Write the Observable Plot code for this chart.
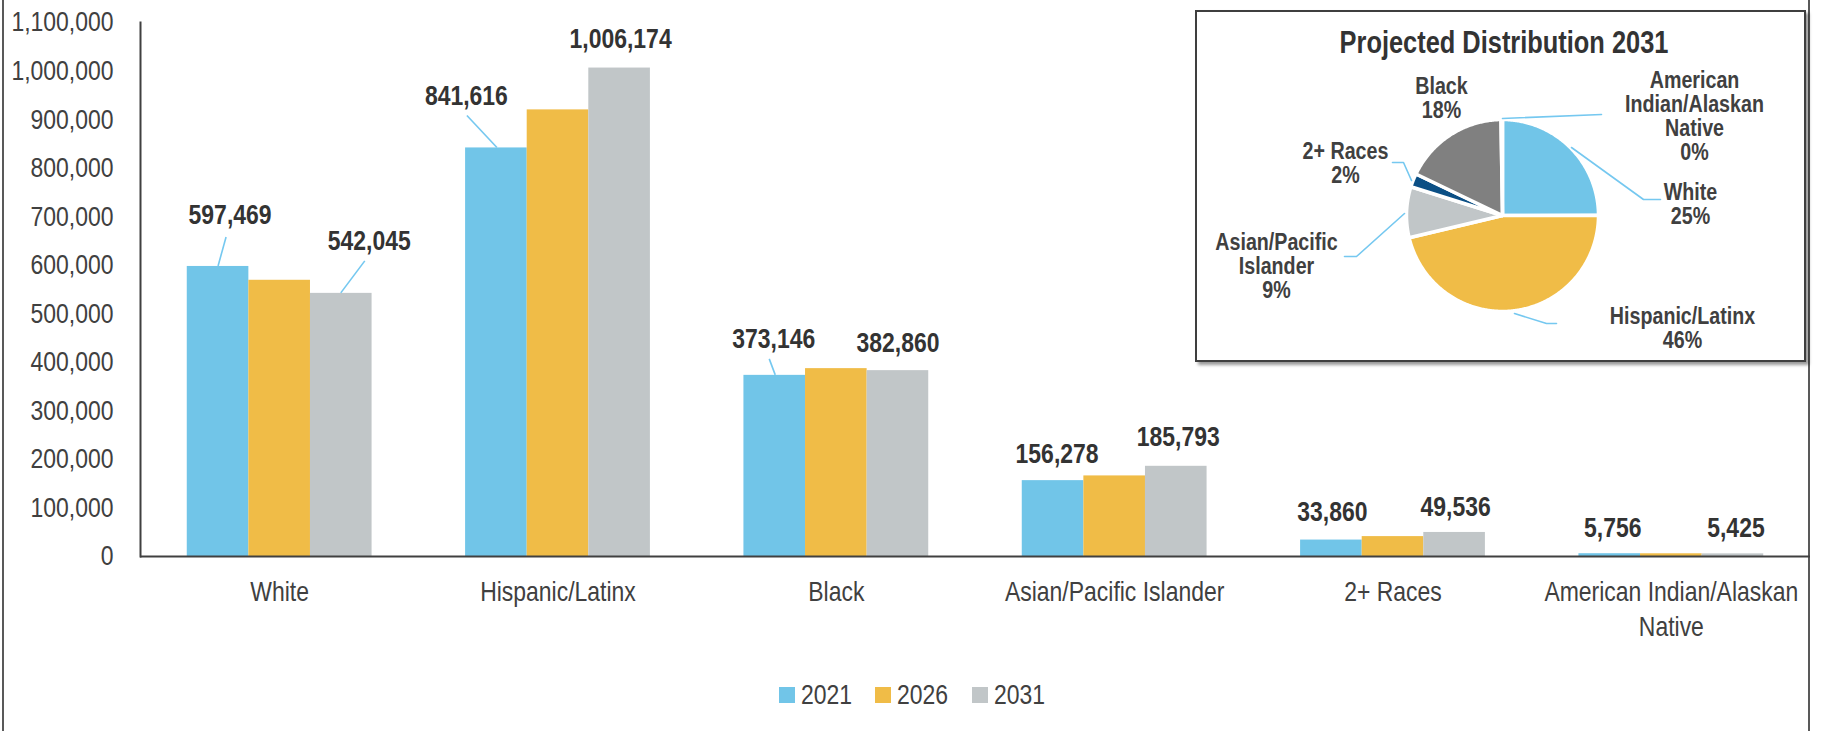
<!DOCTYPE html>
<html>
<head>
<meta charset="utf-8">
<script src="https://cdn.jsdelivr.net/npm/d3@7"></script>
<script src="https://cdn.jsdelivr.net/npm/@observablehq/plot@0.6"></script>
<style>
  html, body { margin: 0; padding: 0; background: #fff; }
  #wrap { position: relative; width: 1825px; height: 731px; overflow: hidden; background: #fff; }
  #frame { position: absolute; left: 2px; top: -10px; width: 1808px; height: 800px; border: 2px solid #595959; box-sizing: border-box; }
  #main { position: absolute; left: 0; top: 0; }
  #inset { position: absolute; left: 1195px; top: 10px; width: 611px; height: 352px; border: 2px solid #3f3f3f; box-sizing: border-box; background: #fff; box-shadow: 3px 3px 3px rgba(0,0,0,0.4); }
  #inset svg { display: block; }
  #legend { position: absolute; left: 0; top: 0; color: #404040; }
  #legend .item { position: absolute; top: 679px; height: 32px; display: flex; align-items: center; white-space: nowrap; }
  #legend .sw { width: 16px; height: 16px; margin-right: 6px; flex: none; }
  #legend span { display: inline-block; transform-origin: left center; }
</style>
</head>
<body>
<div id="wrap">
  <div id="frame"></div>
  <div id="main"></div>
  <div id="inset"></div>
  <div id="legend"></div>
</div>
<script>
// ---------------- DATA ----------------
const races = ["White", "Hispanic/Latinx", "Black", "Asian/Pacific Islander", "2+ Races", "American Indian/Alaskan Native"];
const years = ["2021", "2026", "2031"];
const v2021 = [597469, 841616, 373146, 156278, 33860, 5756];
const v2026 = [569000, 920000, 387000, 166000, 41000, 5600];
const v2031 = [542045, 1006174, 382860, 185793, 49536, 5425];
const yTicks = [0, 100000, 200000, 300000, 400000, 500000, 600000, 700000, 800000, 900000, 1000000, 1100000];
const pieTitle = "Projected Distribution 2031";
const pieOrder = ["White", "Hispanic/Latinx", "Asian/Pacific Islander", "2+ Races", "Black", "American Indian/Alaskan Native"];

// ---------------- STYLE / LAYOUT ----------------
const yearColors = ["#71C5E8", "#F0BC47", "#C1C6C8"];
const pieColors = {"White": "#71C5E8", "Hispanic/Latinx": "#F0BC47", "Asian/Pacific Islander": "#C1C6C8", "2+ Races": "#0B4F85", "Black": "#808080", "American Indian/Alaskan Native": "#2E75B6"};
const leaderColor = "#75C8F0";
const legendLeft = [779, 875, 972];

// bar value labels: offset of label centre from bar top centre, optional leader (relative px)
const labelLayout = [
  {race: "White", year: "2021", dx: 12, dy: -51, leader: [[8.5, -29], [0.5, 0]]},
  {race: "White", year: "2031", dx: 28, dy: -52, leader: [[24, -32], [0, 0]]},
  {race: "Hispanic/Latinx", year: "2021", dx: -30, dy: -52, leader: [[-29, -32], [1, 0]]},
  {race: "Hispanic/Latinx", year: "2031", dx: 1, dy: -29},
  {race: "Black", year: "2021", dx: -1, dy: -36, leader: [[-5, -16], [1, 0]]},
  {race: "Black", year: "2031", dx: 0, dy: -28},
  {race: "Asian/Pacific Islander", year: "2021", dx: 4, dy: -27},
  {race: "Asian/Pacific Islander", year: "2031", dx: 2, dy: -29},
  {race: "2+ Races", year: "2021", dx: 1, dy: -28},
  {race: "2+ Races", year: "2031", dx: 1, dy: -25},
  {race: "American Indian/Alaskan Native", year: "2021", dx: 3, dy: -26},
  {race: "American Indian/Alaskan Native", year: "2031", dx: 3, dy: -26}
];

const pieLabelNames = {"American Indian/Alaskan Native": "American\nIndian/Alaskan\nNative", "Asian/Pacific Islander": "Asian/Pacific\nIslander"};
// pie label centres relative to pie centre (px, y down)
const pieLabelLayout = [
  {name: "Black", dx: -61, dy: -117},
  {name: "American Indian/Alaskan Native", dx: 192, dy: -99},
  {name: "2+ Races", dx: -157, dy: -52},
  {name: "White", dx: 188, dy: -11},
  {name: "Asian/Pacific Islander", dx: -226, dy: 51},
  {name: "Hispanic/Latinx", dx: 180, dy: 113}
];
const pieLeaderLayout = [
  {name: "American Indian/Alaskan Native", pts: [[0, -97], [99, -101]]},
  {name: "White", pts: [[69, -68], [141, -16], [158, -16]]},
  {name: "2+ Races", pts: [[-110, -53], [-99, -53], [-91, -35]]},
  {name: "Asian/Pacific Islander", pts: [[-98, -2], [-146, 41], [-158, 41]]},
  {name: "Hispanic/Latinx", pts: [[12, 98], [44, 108], [54, 108]]}
];

// ---------------- FONT ----------------
function fontAvailable(name) {
  const c = document.createElement("canvas").getContext("2d");
  const s = "abcdefghijklmnopqrstuvwxyzABCDEFGHIJ0123456789";
  c.font = "40px monospace"; const w0 = c.measureText(s).width;
  c.font = `40px "${name}", monospace`; const w1 = c.measureText(s).width;
  return Math.abs(w0 - w1) > 0.5;
}
const NARROW = fontAvailable("Liberation Sans Narrow");
const FONT = NARROW ? '"Liberation Sans Narrow", "Liberation Sans", Arial, sans-serif' : '"Liberation Sans", Arial, sans-serif';
const SQUEEZE = NARROW ? 1 : 0.82; // horizontal condensing of a regular sans to mimic the narrow face

function condense(svg) {
  if (SQUEEZE === 1) return;
  svg.querySelectorAll("text").forEach(t => {
    const tr = t.getAttribute("transform") || "";
    const xa = t.getAttribute("x");
    let pre = "";
    if (xa != null && /^-?[\d.]+$/.test(xa.trim())) { pre = ` translate(${+xa},0)`; t.removeAttribute("x"); }
    t.setAttribute("transform", `${tr}${pre} scale(${SQUEEZE},1)`);
  });
}

// ---------------- MAIN CHART ----------------
const fmt = d3.format(",");
const series = {"2021": v2021, "2026": v2026, "2031": v2031};
const rows = races.flatMap((race, i) => years.map((year, j) => ({race, year, j, value: series[year][i]})));

const W = 1825, H = 640, ML = 140, MR = 15, MT = 22, MB = 84, PI = 0.336, PO = 0.168;
const step = (W - ML - MR) / (races.length - PI + 2 * PO);
const sub = step * (1 - PI) / years.length;

const barMarks = years.map((year, j) => Plot.barY(rows.filter(d => d.year === year), {
  x: "race", y: "value", fill: yearColors[j],
  insetLeft: j * sub, insetRight: (years.length - 1 - j) * sub
}));

const labelMarks = labelLayout.map(L => {
  const d = rows.find(r => r.race === L.race && r.year === L.year);
  return Plot.text([d], {
    x: "race", y: "value", text: r => fmt(r.value),
    dx: (d.j - 1) * sub + L.dx, dy: L.dy,
    fontSize: 28, fontWeight: "bold", fill: "#333333", lineAnchor: "middle"
  });
});

const main = Plot.plot({
  width: W, height: H,
  marginTop: MT, marginBottom: MB, marginLeft: ML, marginRight: MR,
  style: {fontFamily: FONT, fontSize: "28px", background: "transparent", color: "#404040", overflow: "visible"},
  x: {domain: races, paddingInner: PI, paddingOuter: PO, round: false, label: null},
  y: {domain: [0, 1100000], label: null},
  marks: [
    ...barMarks,
    Plot.axisY({ticks: yTicks, tickSize: 0, tickPadding: 27, tickFormat: fmt, fill: "#404040", fontSize: 28, label: null}),
    Plot.axisX({tickSize: 0, tickPadding: 20, tickFormat: d => d.replace("Alaskan ", "Alaskan\n"), fill: "#404040", fontSize: 28, lineHeight: 1.25, label: null}),
    Plot.ruleY([0], {stroke: "#404040", strokeWidth: 2}),
    Plot.frame({anchor: "left", stroke: "#404040", strokeWidth: 2}),
    ...labelMarks
  ]
});
document.getElementById("main").appendChild(main);
condense(main);

// leader lines for bar labels, placed with the plot's own scales
const sx = main.scale("x"), sy = main.scale("y");
const msvg = d3.select(main);
labelLayout.filter(L => L.leader).forEach(L => {
  const d = rows.find(r => r.race === L.race && r.year === L.year);
  const cx = sx.apply(d.race) + sx.bandwidth / 2 + (d.j - 1) * sub;
  const cy = sy.apply(d.value);
  msvg.append("path")
    .attr("d", d3.line()(L.leader.map(([a, b]) => [cx + a, cy + b])))
    .attr("fill", "none").attr("stroke", leaderColor).attr("stroke-width", 1.6);
});

// ---------------- PIE INSET ----------------
const PW = 607, PH = 348, R = 96, PCX = 305, PCY = 203; // pie frame size, radius and centre (px)
const pieData = pieOrder.map(name => ({name, value: v2031[races.indexOf(name)]}));
const total = d3.sum(pieData, d => d.value);
const arcs = d3.pie().sort(null).value(d => d.value)(pieData);
const slicePts = arcs.map(a => {
  const n = Math.max(2, Math.ceil((a.endAngle - a.startAngle) / 0.01));
  const pts = [{x: 0, y: 0}];
  for (let i = 0; i <= n; i++) {
    const t = a.startAngle + (a.endAngle - a.startAngle) * i / n;
    pts.push({x: Math.sin(t) * R, y: Math.cos(t) * R});
  }
  return {name: a.data.name, pts};
});
const pieLabels = pieLabelLayout.map(L => {
  const d = pieData.find(p => p.name === L.name);
  return {x: L.dx, y: -L.dy, text: (pieLabelNames[L.name] || L.name) + "\n" + Math.round(d.value / total * 100) + "%"};
});
const pieLeaders = pieLeaderLayout.flatMap(L => L.pts.map(([a, b]) => ({id: L.name, x: a, y: -b})));

const pie = Plot.plot({
  width: PW, height: PH, margin: 0,
  style: {fontFamily: FONT, background: "transparent", color: "#404040"},
  x: {domain: [-PCX, PW - PCX], axis: null},
  y: {domain: [-(PH - PCY), PCY], axis: null},
  marks: [
    ...slicePts.map(s => Plot.line(s.pts, {x: "x", y: "y", fill: pieColors[s.name], stroke: "white", strokeWidth: 3.5, curve: "linear-closed"})),
    Plot.line(pieLeaders, {x: "x", y: "y", z: "id", stroke: leaderColor, strokeWidth: 1.6}),
    Plot.text(pieLabels, {x: "x", y: "y", text: "text", fontSize: 24, fontWeight: "bold", fill: "#404040", lineHeight: 1.0, lineAnchor: "middle"}),
    Plot.text([pieTitle], {frameAnchor: "top", dy: 31, dx: 3, lineAnchor: "middle", fontSize: 31, fontWeight: "bold", fill: "#333333"})
  ]
});
document.getElementById("inset").appendChild(pie);
condense(pie);

// ---------------- LEGEND ----------------
const legend = d3.select("#legend").style("font-family", FONT).style("font-size", "28px");
years.forEach((y, j) => {
  const it = legend.append("div").attr("class", "item").style("left", legendLeft[j] + "px");
  it.append("div").attr("class", "sw").style("background", yearColors[j]);
  it.append("span").text(y).style("transform", `scaleX(${SQUEEZE})`);
});
</script>
</body>
</html>
